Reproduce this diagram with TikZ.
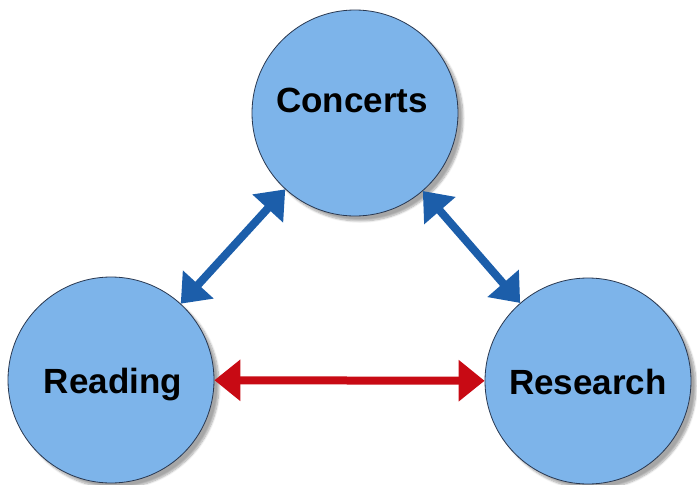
\documentclass[tikz,border=0pt]{standalone}
\usepackage{fontspec}
\setmainfont{Liberation Sans}
\usetikzlibrary{arrows.meta,shadows.blur}
\definecolor{bubble}{RGB}{125,180,234}
\definecolor{rim}{RGB}{40,55,80}
\definecolor{linkblue}{RGB}{28,94,170}
\definecolor{linkred}{RGB}{200,10,20}
\tikzset{
  topic/.style={circle, draw=rim, line width=0.8pt, fill=bubble,
    minimum size=206pt, inner sep=0pt,
    blur shadow={shadow xshift=5pt, shadow yshift=-5pt, shadow blur steps=8, shadow opacity=35}},
  label/.style={font=\fontsize{35}{40}\selectfont\bfseries, text=black},
  twoway/.style={line width=8pt, {Triangle[width=40pt,length=26pt]}-{Triangle[width=40pt,length=26pt]}},
}
\begin{document}
\begin{tikzpicture}[x=1pt,y=-1pt]
  \useasboundingbox (0,0) rectangle (697,485);
  % the three topics
  \node[topic] (conc) at (355,113) {};
  \node[topic] (read) at (111,380) {};
  \node[topic] (res)  at (588,381) {};
  % labels
  \node[label] (tconc) at (352,100) {Concerts};
  \node[label] (tread) at (113,385) {Reading};
  \node[label] (tres)  at (588,382) {Research};
  % links
  \draw[twoway, linkblue] (read) -- (conc);
  \draw[twoway, linkblue] (conc) -- (res);
  \draw[twoway, linkred]  (read) -- (res);
\end{tikzpicture}
\end{document}
